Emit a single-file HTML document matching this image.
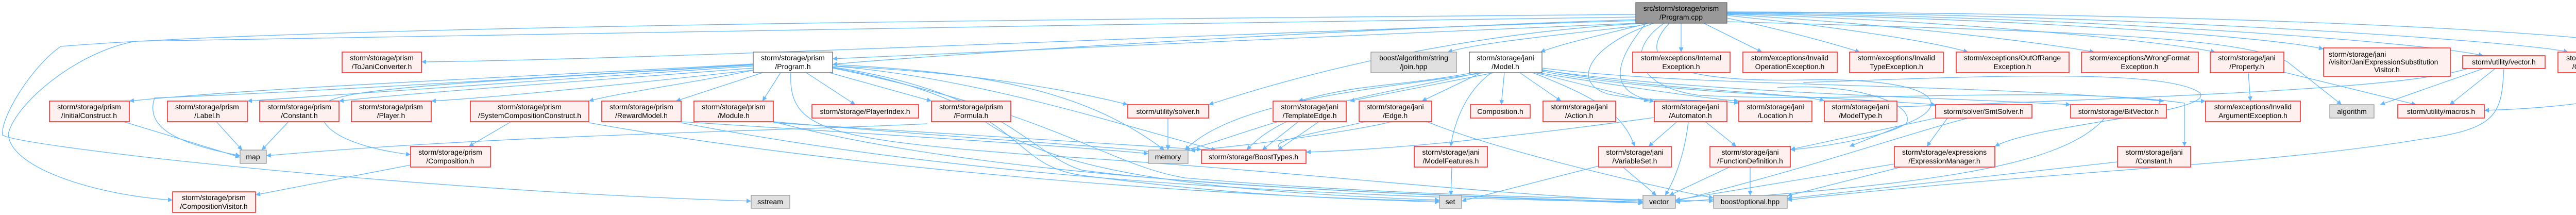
<!DOCTYPE html>
<html><head><meta charset="utf-8"><style>
html,body{margin:0;padding:0;background:#fff;}
svg{display:block;}
text{font-family:"Liberation Sans",sans-serif;font-size:14px;fill:#000;}
.e{fill:none;stroke:#63b8ff;stroke-width:1.3;}
.r{fill:#fff0f0;stroke:#ff2a2a;stroke-width:1.6;}
.g{fill:#e0e0e0;stroke:#999;stroke-width:1.3;}
.w{fill:#fff;stroke:#666;stroke-width:1.3;}
.m{fill:#999;stroke:#666;stroke-width:1.3;}
</style></head><body>
<svg width="5151" height="417" viewBox="0 0 5151 417" xmlns="http://www.w3.org/2000/svg">
<defs><marker id="a" viewBox="0 0 10 10" refX="10" refY="5" markerWidth="9" markerHeight="9" orient="auto" markerUnits="userSpaceOnUse"><path d="M0,0 L10,5 L0,10 z" fill="#63b8ff"/></marker></defs>
<g class="e" marker-end="url(#a)">
<!-- from Program.cpp -->
<path d="M3175,28 C2000,38 600,50 118,90 C60,130 0,230 5,262 C40,285 800,370 1458,390"/>
<path d="M3175,33 C2200,45 900,70 263,80 C150,100 30,200 16,260 C20,330 200,380 335,388"/>
<path d="M3175,40 C2500,60 1300,115 818,120"/>
<path d="M3175,45 C2600,70 1900,100 1616,114"/>
<path d="M3180,50 C3000,70 2860,85 2810,101"/>
<path d="M3200,45 C3100,70 3030,85 2990,101"/>
<path d="M3263,45 L3263,101"/>
<path d="M3307,45 L3420,101"/>
<path d="M3352,35 C3450,55 3560,85 3610,101"/>
<path d="M3352,30 C3550,50 3750,80 3820,101"/>
<path d="M3352,28 C3650,45 3950,80 4065,101"/>
<path d="M3352,27 C3800,40 4200,80 4300,101"/>
<path d="M3352,26 C3900,35 4400,70 4510,95"/>
<path d="M3352,25 C4000,30 4700,80 4820,108"/>
<path d="M3352,24 C4100,25 4900,80 4985,101"/>
<path d="M3352,23 C4300,25 5000,60 5130,90 C5160,120 5150,170 5100,185 C5000,205 4900,212 4822,214"/>
<path d="M3352,42 C4000,60 4350,70 4440,120 L4545,203"/>
<path d="M3195,45 C2900,60 2600,120 2346,203"/>
<path d="M3210,45 C3080,90 3050,160 3120,182 C3200,200 3300,190 3375,200"/>
<path d="M3230,45 C3150,100 3180,170 3300,185 C3600,200 4000,165 4240,200 L4240,284"/>
<path d="M3240,45 C3170,120 3250,160 3500,155 C3750,150 3800,200 3700,240 L3590,284"/>
<path d="M3175,38 C2500,60 1700,115 1616,125"/>
<path d="M3195,45 C3100,160 3160,185 3211,197"/>
<!-- Program.h -->
<path d="M1462,124 C1000,150 500,170 251,196"/>
<path d="M1462,128 C1000,160 700,180 480,196"/>
<path d="M1462,132 C1100,160 800,180 658,196"/>
<path d="M1462,136 C1200,165 950,190 837,196"/>
<path d="M1462,136 C1350,160 1200,180 1143,196"/>
<path d="M1480,141 L1312,196"/>
<path d="M1515,141 L1480,196"/>
<path d="M1565,141 L1660,203"/>
<path d="M1610,141 L1808,196"/>
<path d="M1616,128 C1900,140 2100,180 2189,203"/>
<path d="M1616,125 C1900,140 2100,170 2260,291"/>
<path d="M1616,128 C1900,150 2200,250 2360,291"/>
<path d="M1462,126 C900,160 700,170 640,195 C600,230 640,280 797,300"/>
<path d="M1462,125 C900,160 550,180 300,190 C280,250 350,280 466,302"/>
<path d="M1616,130 C1950,180 2000,300 2100,330 C2400,370 3000,385 3189,392"/>
<path d="M1616,131 C2000,200 1950,320 2100,340 C2400,380 2600,385 2794,392"/>
<path d="M1616,132 C2050,220 2150,320 2300,345 C2700,380 3100,385 3326,390"/>
<path d="M1535,141 C1530,250 1600,270 2000,300 C2500,330 2800,370 3189,390"/>
<!-- row2 to row3 -->
<path d="M240,236 L466,305"/>
<path d="M420,236 L470,291"/>
<path d="M560,236 L508,291"/>
<path d="M992,236 L910,284"/>
<path d="M797,320 L496,378"/>
<path d="M1800,240 C1500,255 1000,260 517,302"/>
<path d="M1912,236 C2050,330 2300,370 2794,388"/>
<path d="M1143,238 C1600,320 2300,380 2794,390"/>
<path d="M1322,238 C1800,330 2400,380 3189,392"/>
<path d="M1501,236 C1900,340 2500,370 3189,394"/>
<path d="M1501,236 C2000,280 2300,290 2229,300"/>
<path d="M1322,236 C1700,260 2100,285 2229,298"/>
<path d="M1501,238 C2000,270 2200,280 2332,290"/>
<path d="M2267,229 L2267,291"/>
<path d="M2480,236 C2400,260 2350,280 2300,291"/>
<path d="M2520,236 L2450,291"/>
<path d="M2560,236 L2480,291"/>
<path d="M2650,236 C2550,260 2400,280 2535,300"/>
<path d="M2700,236 C2650,250 2450,280 2310,292"/>
<path d="M2770,236 C2900,290 3200,360 3326,384"/>
<!-- Model.h -->
<path d="M2875,141 L2760,196"/>
<path d="M2900,141 L2620,196"/>
<path d="M2920,141 L2914,203"/>
<path d="M2950,141 L3030,196"/>
<path d="M2980,141 L3200,196"/>
<path d="M2985,141 C3100,160 3300,190 3375,196"/>
<path d="M2895,141 C2840,180 2820,250 2816,284"/>
<path d="M2975,141 C3100,190 3150,220 3173,284"/>
<path d="M2880,141 C2700,170 2400,190 2300,291"/>
<path d="M2870,141 C2700,180 2500,200 2420,291"/>
<path d="M2860,141 C2700,170 2650,160 2520,196"/>
<path d="M2993,132 C3300,170 3800,160 4200,196"/>
<path d="M2993,135 C3200,175 3500,180 3541,196"/>
<path d="M2993,138 C3200,180 3600,190 3757,203"/>
<path d="M2993,136 C3300,180 3800,190 4019,203"/>
<!-- Automaton etc -->
<path d="M3255,236 L3200,284"/>
<path d="M3310,236 L3370,284"/>
<path d="M3277,236 C3270,300 3250,350 3232,379"/>
<path d="M3211,228 C2900,270 2700,290 2535,295"/>
<path d="M2818,324 L2816,379"/>
<path d="M3150,324 L3215,379"/>
<path d="M3103,322 L2837,390"/>
<path d="M3357,324 L3240,379"/>
<path d="M3397,324 L3397,379"/>
<path d="M3780,229 L3740,284"/>
<path d="M3820,229 C3700,260 3500,330 3252,390"/>
<path d="M3757,229 L3475,290"/>
<path d="M3677,318 L3252,388"/>
<path d="M3690,324 L3469,380"/>
<path d="M4085,229 C4000,330 3700,360 3252,392"/>
<path d="M4110,314 L3469,385"/>
<path d="M4790,133 C4700,160 4500,180 3600,210"/>
<path d="M4820,133 L4620,203"/>
<path d="M4843,133 L4755,203"/>
<path d="M4860,133 C4855,220 4850,250 4700,270 C4400,320 4000,330 3469,388"/>
<path d="M4364,141 L4368,196"/>
<path d="M4433,140 L4690,203"/>
<path d="M3500,160 C3800,150 4200,130 4270,180 C4300,220 3950,240 3872,284"/>
<path d="M3450,170 C3600,160 3720,200 3700,240 C3650,270 3500,290 3475,290"/>
<path d="M4190,200 L4205,210"/>
<path d="M4250,197 L4281,196"/>
</g>
<!-- nodes -->
<g>
<rect class="m" x="3175" y="5" width="177" height="40"/>
<text x="3263" y="21" text-anchor="middle">src/storm/storage/prism</text>
<text x="3263" y="38" text-anchor="middle">/Program.cpp</text>
</g>
<g text-anchor="middle">
<!-- row1 -->
<rect class="r" x="664" y="101" width="154" height="40"/><text x="741" y="117">storm/storage/prism</text><text x="741" y="134">/ToJaniConverter.h</text>
<rect class="w" x="1462" y="101" width="154" height="40"/><text x="1539" y="117">storm/storage/prism</text><text x="1539" y="134">/Program.h</text>
<rect class="g" x="2661" y="101" width="166" height="40"/><text x="2744" y="117">boost/algorithm/string</text><text x="2744" y="134">/join.hpp</text>
<rect class="w" x="2852" y="101" width="141" height="40"/><text x="2922" y="117">storm/storage/jani</text><text x="2922" y="134">/Model.h</text>
<rect class="r" x="3169" y="101" width="189" height="40"/><text x="3263" y="117">storm/exceptions/Internal</text><text x="3263" y="134">Exception.h</text>
<rect class="r" x="3383" y="101" width="183" height="40"/><text x="3474" y="117">storm/exceptions/Invalid</text><text x="3474" y="134">OperationException.h</text>
<rect class="r" x="3590" y="101" width="182" height="40"/><text x="3681" y="117">storm/exceptions/Invalid</text><text x="3681" y="134">TypeException.h</text>
<rect class="r" x="3797" y="101" width="219" height="40"/><text x="3906" y="117">storm/exceptions/OutOfRange</text><text x="3906" y="134">Exception.h</text>
<rect class="r" x="4040" y="101" width="227" height="40"/><text x="4153" y="117">storm/exceptions/WrongFormat</text><text x="4153" y="134">Exception.h</text>
<rect class="r" x="4290" y="101" width="143" height="40"/><text x="4361" y="117">storm/storage/jani</text><text x="4361" y="134">/Property.h</text>
<rect class="r" x="4510" y="93" width="246" height="55"/><text x="4520" y="110" text-anchor="start">storm/storage/jani</text><text x="4520" y="125" text-anchor="start">/visitor/JaniExpressionSubstitution</text><text x="4633" y="140">Visitor.h</text>
<rect class="r" x="4780" y="108" width="160" height="25"/><text x="4860" y="125">storm/utility/vector.h</text>
<rect class="r" x="4965" y="101" width="157" height="40"/><text x="5043" y="117">storm/storage/prism</text><text x="5043" y="134">/Compositions.h</text>
<!-- row2 -->
<rect class="r" x="96" y="196" width="155" height="40"/><text x="173" y="212">storm/storage/prism</text><text x="173" y="229">/InitialConstruct.h</text>
<rect class="r" x="325" y="196" width="155" height="40"/><text x="402" y="212">storm/storage/prism</text><text x="402" y="229">/Label.h</text>
<rect class="r" x="504" y="196" width="154" height="40"/><text x="581" y="212">storm/storage/prism</text><text x="581" y="229">/Constant.h</text>
<rect class="r" x="682" y="196" width="155" height="40"/><text x="759" y="212">storm/storage/prism</text><text x="759" y="229">/Player.h</text>
<rect class="r" x="913" y="196" width="230" height="40"/><text x="1028" y="212">storm/storage/prism</text><text x="1028" y="229">/SystemCompositionConstruct.h</text>
<rect class="r" x="1168" y="196" width="154" height="40"/><text x="1245" y="212">storm/storage/prism</text><text x="1245" y="229">/RewardModel.h</text>
<rect class="r" x="1347" y="196" width="154" height="40"/><text x="1424" y="212">storm/storage/prism</text><text x="1424" y="229">/Module.h</text>
<rect class="r" x="1576" y="203" width="207" height="26"/><text x="1679" y="221">storm/storage/PlayerIndex.h</text>
<rect class="r" x="1808" y="196" width="154" height="40"/><text x="1885" y="212">storm/storage/prism</text><text x="1885" y="229">/Formula.h</text>
<rect class="r" x="2189" y="203" width="157" height="26"/><text x="2267" y="221">storm/utility/solver.h</text>
<rect class="r" x="2471" y="196" width="142" height="40"/><text x="2542" y="212">storm/storage/jani</text><text x="2542" y="229">/TemplateEdge.h</text>
<rect class="r" x="2638" y="196" width="141" height="40"/><text x="2708" y="212">storm/storage/jani</text><text x="2708" y="229">/Edge.h</text>
<rect class="r" x="2854" y="203" width="116" height="26"/><text x="2912" y="221">Composition.h</text>
<rect class="r" x="2995" y="196" width="141" height="40"/><text x="3065" y="212">storm/storage/jani</text><text x="3065" y="229">/Action.h</text>
<rect class="r" x="3211" y="196" width="141" height="40"/><text x="3281" y="212">storm/storage/jani</text><text x="3281" y="229">/Automaton.h</text>
<rect class="r" x="3375" y="196" width="142" height="40"/><text x="3446" y="212">storm/storage/jani</text><text x="3446" y="229">/Location.h</text>
<rect class="r" x="3541" y="196" width="141" height="40"/><text x="3611" y="212">storm/storage/jani</text><text x="3611" y="229">/ModelType.h</text>
<rect class="r" x="3757" y="203" width="187" height="26"/><text x="3850" y="221">storm/solver/SmtSolver.h</text>
<rect class="r" x="4019" y="203" width="186" height="26"/><text x="4112" y="221">storm/storage/BitVector.h</text>
<rect class="r" x="4281" y="196" width="184" height="40"/><text x="4373" y="212">storm/exceptions/Invalid</text><text x="4373" y="229">ArgumentException.h</text>
<rect class="g" x="4522" y="203" width="86" height="26"/><text x="4565" y="221">algorithm</text>
<rect class="r" x="4654" y="203" width="168" height="26"/><text x="4738" y="221">storm/utility/macros.h</text>
<!-- row3 -->
<rect class="g" x="466" y="291" width="51" height="26"/><text x="491" y="309">map</text>
<rect class="r" x="797" y="284" width="155" height="40"/><text x="874" y="300">storm/storage/prism</text><text x="874" y="317">/Composition.h</text>
<rect class="g" x="2229" y="291" width="77" height="26"/><text x="2267" y="309">memory</text>
<rect class="r" x="2332" y="291" width="203" height="26"/><text x="2433" y="309">storm/storage/BoostTypes.h</text>
<rect class="r" x="2745" y="284" width="142" height="40"/><text x="2816" y="300">storm/storage/jani</text><text x="2816" y="317">/ModelFeatures.h</text>
<rect class="r" x="3103" y="284" width="141" height="40"/><text x="3173" y="300">storm/storage/jani</text><text x="3173" y="317">/VariableSet.h</text>
<rect class="r" x="3319" y="284" width="156" height="40"/><text x="3397" y="300">storm/storage/jani</text><text x="3397" y="317">/FunctionDefinition.h</text>
<rect class="r" x="3677" y="284" width="195" height="40"/><text x="3774" y="300">storm/storage/expressions</text><text x="3774" y="317">/ExpressionManager.h</text>
<rect class="r" x="4110" y="284" width="142" height="40"/><text x="4181" y="300">storm/storage/jani</text><text x="4181" y="317">/Constant.h</text>
<!-- row4 -->
<rect class="r" x="335" y="372" width="161" height="40"/><text x="415" y="388">storm/storage/prism</text><text x="415" y="405">/CompositionVisitor.h</text>
<rect class="g" x="1458" y="379" width="75" height="25"/><text x="1495" y="396">sstream</text>
<rect class="g" x="2794" y="379" width="43" height="25"/><text x="2815" y="396">set</text>
<rect class="g" x="3189" y="379" width="63" height="25"/><text x="3220" y="396">vector</text>
<rect class="g" x="3326" y="379" width="143" height="25"/><text x="3397" y="396">boost/optional.hpp</text>
</g>
</svg>
</body></html>
